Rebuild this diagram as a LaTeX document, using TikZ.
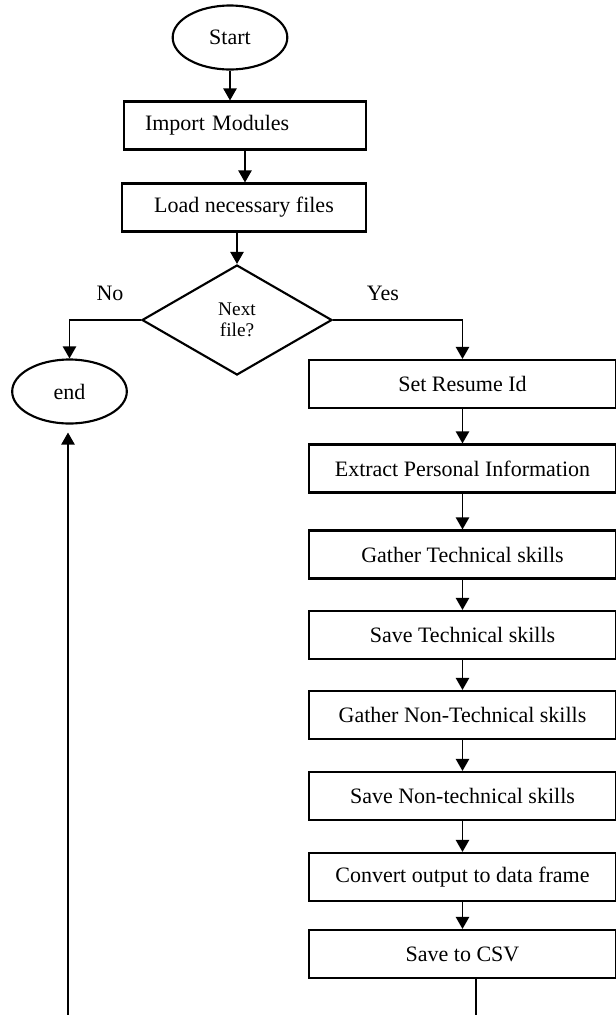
\documentclass[tikz,border=0pt]{standalone}
\usepackage{fontspec}
\setmainfont{Liberation Serif}
\usetikzlibrary{shapes.geometric,arrows.meta,positioning,calc}

\begin{document}
\begin{tikzpicture}[x=0.75pt,y=-0.75pt,
    txt/.style={font=\fontsize{16.5}{19}\selectfont},
    box/.style={draw,txt,line width=1.6pt,minimum height=36pt,inner sep=0pt},
    term/.style={draw,txt,ellipse,line width=1.6pt,minimum width=86pt,minimum height=48pt,inner sep=0pt},
    arr/.style={-{Triangle[width=10pt,length=9pt]},line width=1pt}]
  \useasboundingbox (0,0) rectangle (616,1015);

  % Start and loading
  \node[term] (start) at (230,37.5) {Start};
  \node[box,minimum width=181.5pt,text width=150pt,align=left,inner xsep=15.75pt] (import) at (245,125.5) {Import Modules};
  \node[box,minimum width=183pt] (load) at (244,207.5) {Load necessary files};

  % Decision
  \node[diamond,draw,line width=1.6pt,minimum width=142.5pt,minimum height=82.5pt,inner sep=0pt,
        align=center,font=\fontsize{14.5}{16}\selectfont] (next) at (237,320) {Next\\file?};
  \node[txt] (nolbl) at (110,293) {No};
  \node[txt] (yeslbl) at (383,293) {Yes};
  \node[term] (stop) at (69.5,391.5) {end};

  % Processing steps
  \node[box,minimum width=230.25pt] (setid) at (462.5,384) {Set Resume Id};
  \node[box,minimum width=230.25pt] (extract) at (462.5,468.5) {Extract Personal Information};
  \node[box,minimum width=230.25pt] (gathertech) at (462.5,554.5) {Gather Technical skills};
  \node[box,minimum width=230.25pt] (savetech) at (462.5,635) {Save Technical skills};
  \node[box,minimum width=230.25pt] (gathernon) at (462.5,715) {Gather Non-Technical skills};
  \node[box,minimum width=230.25pt] (savenon) at (462.5,796) {Save Non-technical skills};
  \node[box,minimum width=230.25pt] (convert) at (462.5,877) {Convert output to data frame};
  \node[box,minimum width=230.25pt] (savecsv) at (462.5,954) {Save to CSV};

  % Arrows
  \draw[arr] (start) -- (start |- import.north);
  \draw[arr] (import) -- (import |- load.north);
  \draw[arr] (next.north |- load.south) -- (next.north);
  \draw[arr] (next.west) -| (stop.north);
  \draw[arr] (next.east) -| (setid.north);
  \foreach \a/\b in {setid/extract,extract/gathertech,gathertech/savetech,savetech/gathernon,
                     gathernon/savenon,savenon/convert,convert/savecsv}
    \draw[arr] (\a) -- (\a |- \b.north);

  % Loop back (cut at the bottom)
  \coordinate (loopout) at (476,1015);
  \coordinate (loopin) at (68,1015);
  \draw[line width=1pt] (loopout |- savecsv.south) -- (loopout);
  \draw[arr,shorten >=6pt] (loopin) -- (loopin |- stop.south);
\end{tikzpicture}
\end{document}
